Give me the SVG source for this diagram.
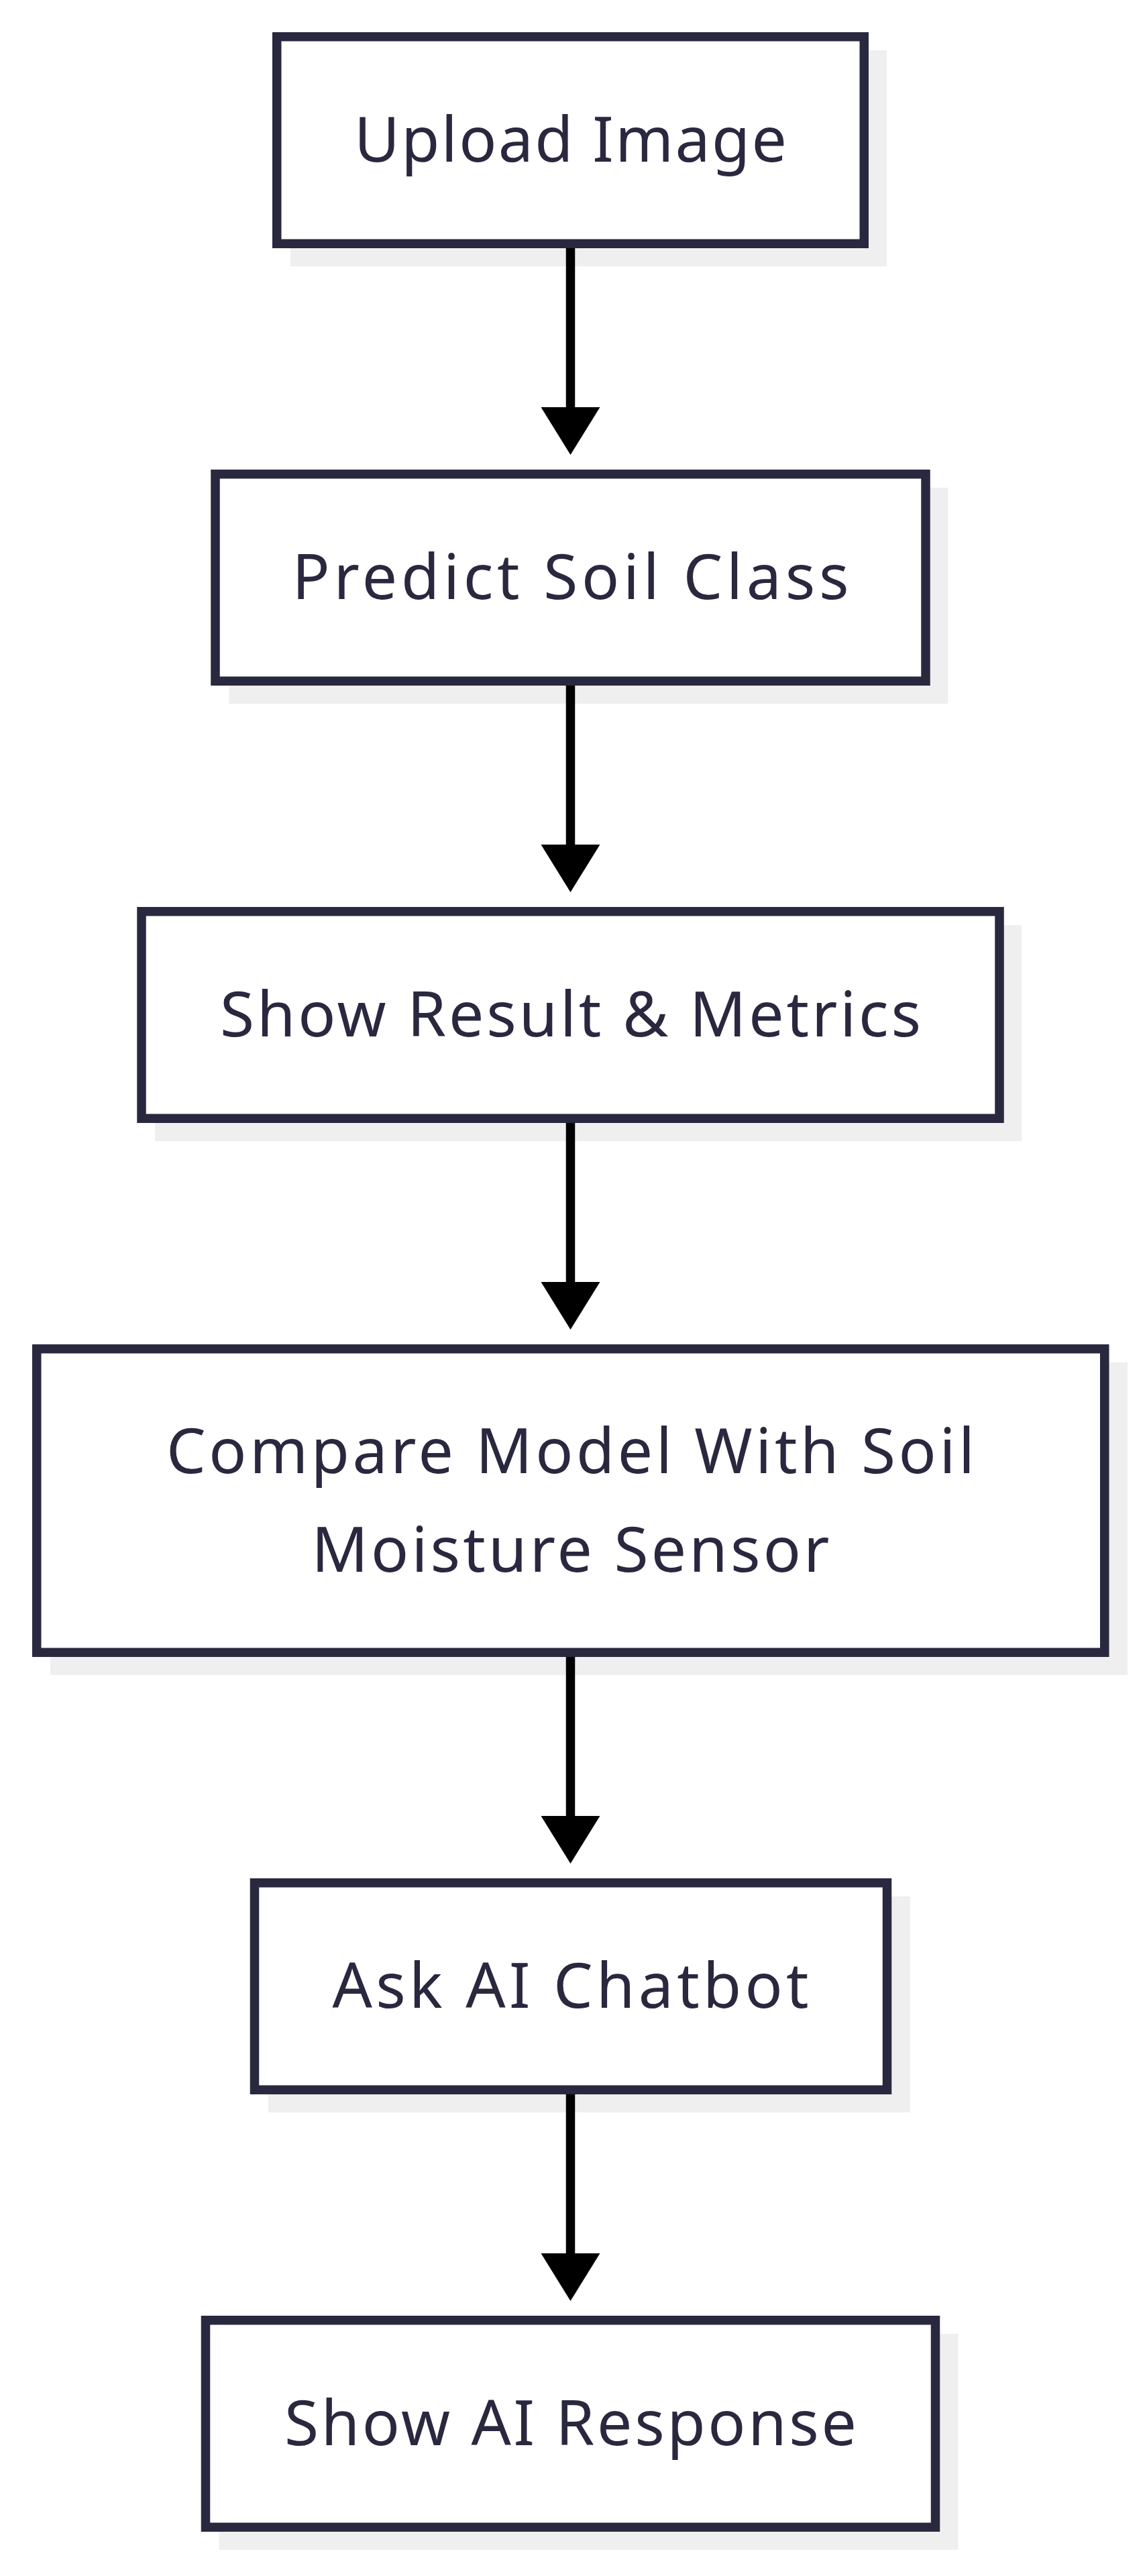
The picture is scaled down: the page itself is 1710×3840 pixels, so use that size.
<svg xmlns="http://www.w3.org/2000/svg" width="1710" height="3840" viewBox="0 0 1710 3840">
<defs>
<style>
.shadow{fill:#efefef;}
.box{fill:#ffffff;stroke:#28283f;stroke-width:13.5;}
.lbl{font-family:"Noto Sans","Open Sans","DejaVu Sans",sans-serif;font-size:93px;fill:#29283f;text-anchor:middle;}
.edge{stroke:#000000;stroke-width:13.5;fill:none;}
</style>
<marker id="arrow" markerUnits="userSpaceOnUse" viewBox="0 0 71 88" refX="0" refY="44" markerWidth="71" markerHeight="88" orient="auto">
<path d="M0,0 L71,44 L0,88 Z" fill="#000000"/>
</marker>
</defs>
<rect width="1710" height="3840" fill="#ffffff"/>
<g id="node1">
<rect class="shadow" x="433" y="75" width="889" height="322"/>
<rect class="box" x="412.75" y="54.75" width="875.5" height="308.5"/>
<text class="lbl" x="850.5" y="241" textLength="645" lengthAdjust="spacing">Upload Image</text>
</g>
<g id="node2">
<rect class="shadow" x="341.25" y="727" width="1072" height="322"/>
<rect class="box" x="321" y="706.75" width="1059" height="308.5"/>
<text class="lbl" x="850.5" y="893" textLength="830" lengthAdjust="spacing">Predict Soil Class</text>
</g>
<g id="node3">
<rect class="shadow" x="231" y="1379" width="1292" height="322"/>
<rect class="box" x="211" y="1358.75" width="1279" height="308.5"/>
<text class="lbl" x="850.5" y="1545" textLength="1045" lengthAdjust="spacing">Show Result &amp; Metrics</text>
</g>
<g id="node4">
<rect class="shadow" x="75" y="2031" width="1606" height="466"/>
<rect class="box" x="54.75" y="2010.75" width="1592" height="452.5"/>
<text class="lbl" x="850.5" y="2196" textLength="1205" lengthAdjust="spacing">Compare Model With Soil</text>
<text class="lbl" x="850.5" y="2343" textLength="772" lengthAdjust="spacing">Moisture Sensor</text>
</g>
<g id="node5">
<rect class="shadow" x="400" y="2827" width="957" height="322"/>
<rect class="box" x="379.5" y="2806.75" width="943" height="308.5"/>
<text class="lbl" x="850.5" y="2993" textLength="710" lengthAdjust="spacing">Ask AI Chatbot</text>
</g>
<g id="node6">
<rect class="shadow" x="326.5" y="3479" width="1102" height="322"/>
<rect class="box" x="306.5" y="3458.75" width="1088" height="308.5"/>
<text class="lbl" x="850.5" y="3645" textLength="853" lengthAdjust="spacing">Show AI Response</text>
</g>
<g id="connectors">
<path class="edge" d="M850.5,370 L850.5,607" marker-end="url(#arrow)"/>
<path class="edge" d="M850.5,1022 L850.5,1259" marker-end="url(#arrow)"/>
<path class="edge" d="M850.5,1674 L850.5,1911" marker-end="url(#arrow)"/>
<path class="edge" d="M850.5,2470 L850.5,2707" marker-end="url(#arrow)"/>
<path class="edge" d="M850.5,3122 L850.5,3359" marker-end="url(#arrow)"/>
</g>
</svg>
